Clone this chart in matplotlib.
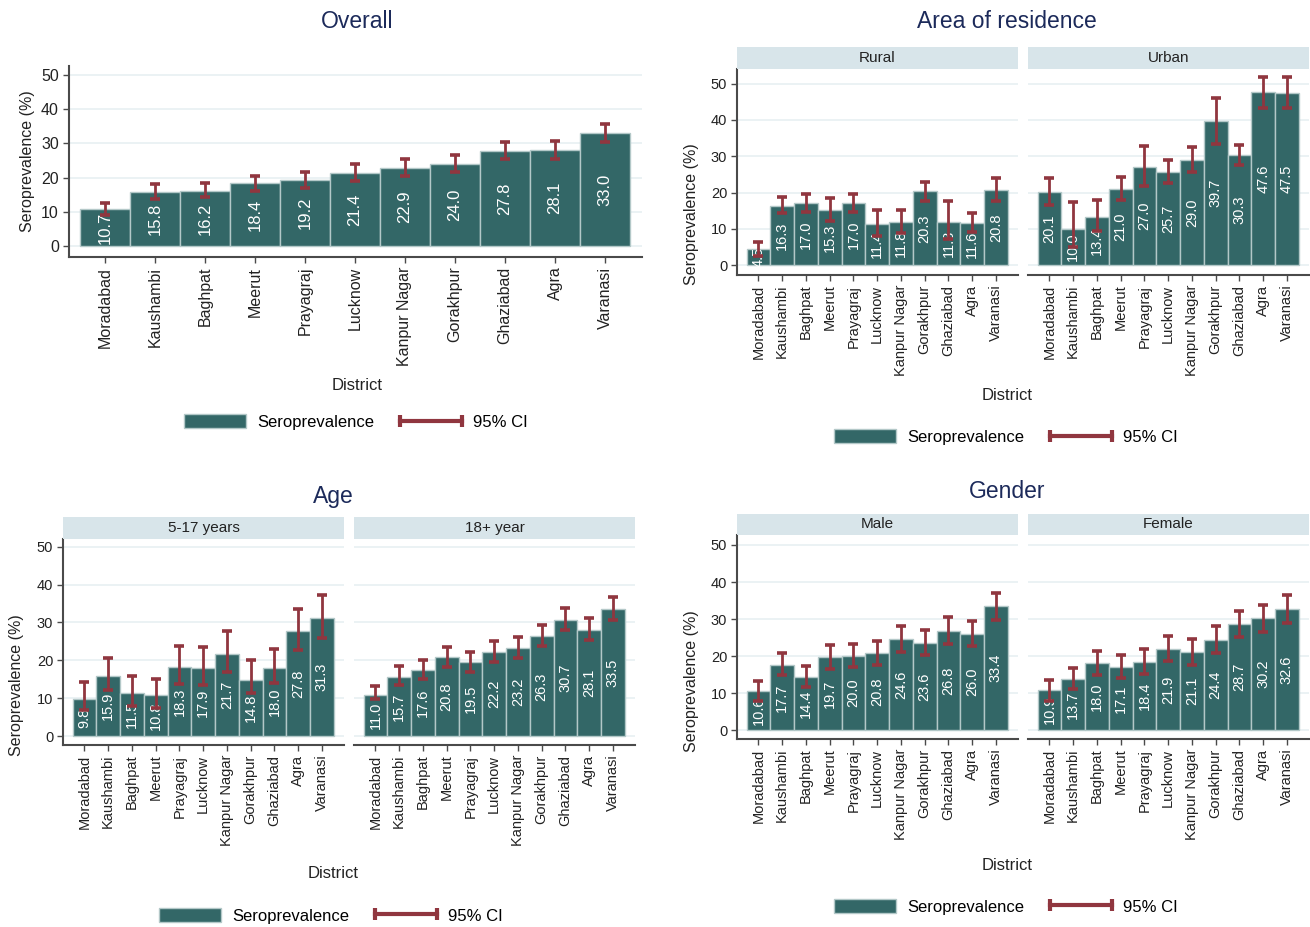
import matplotlib
matplotlib.use("Agg")
import matplotlib.pyplot as plt
import numpy as np
from matplotlib.patches import Patch
from matplotlib.lines import Line2D
from matplotlib.legend_handler import HandlerLine2D

plt.rcParams['font.family'] = ['Liberation Sans', 'DejaVu Sans']

districts = ["Moradabad", "Kaushambi", "Baghpat", "Meerut", "Prayagraj", "Lucknow",
             "Kanpur Nagar", "Gorakhpur", "Ghaziabad", "Agra", "Varanasi"]

# Overall
overall_est = [10.7, 15.8, 16.2, 18.4, 19.2, 21.4, 22.9, 24.0, 27.8, 28.1, 33.0]
overall_lo = [9.0, 13.7, 14.3, 16.1, 16.9, 19.0, 20.5, 21.5, 25.4, 25.4, 30.3]
overall_hi = [12.7, 18.1, 18.5, 20.6, 21.5, 23.9, 25.3, 26.5, 30.3, 30.6, 35.6]

# Area of residence
rural_est = [4.5, 16.3, 17.0, 15.3, 17.0, 11.4, 11.8, 20.3, 11.8, 11.6, 20.8]
rural_lo = [2.6, 14.4, 14.7, 12.2, 14.7, 8.1, 8.8, 17.8, 7.2, 9.2, 17.8]
rural_hi = [6.4, 18.7, 19.6, 18.4, 19.5, 15.2, 15.2, 23.0, 17.7, 14.4, 24.1]
urban_est = [20.1, 10.0, 13.4, 21.0, 27.0, 25.7, 29.0, 39.7, 30.3, 47.6, 47.5]
urban_lo = [16.6, 4.9, 9.5, 18.0, 21.8, 22.7, 25.7, 33.4, 27.5, 43.4, 43.4]
urban_hi = [23.9, 17.5, 18.0, 24.2, 32.8, 28.9, 32.4, 46.1, 33.1, 51.7, 51.7]

# Age
child_est = [9.8, 15.9, 11.5, 10.8, 18.3, 17.9, 21.7, 14.8, 18.0, 27.8, 31.3]
child_lo = [7.0, 12.2, 7.9, 7.5, 13.8, 13.5, 16.9, 11.4, 14.0, 22.7, 26.0]
child_hi = [14.3, 20.6, 16.0, 15.1, 23.8, 23.5, 27.7, 20.0, 22.9, 33.6, 37.2]
adult_est = [11.0, 15.7, 17.6, 20.8, 19.5, 22.2, 23.2, 26.3, 30.7, 28.1, 33.5]
adult_lo = [9.7, 13.5, 15.2, 18.3, 17.0, 19.7, 20.6, 23.7, 28.0, 25.4, 30.7]
adult_hi = [13.3, 18.4, 20.2, 23.6, 22.3, 25.0, 26.1, 29.2, 33.8, 31.3, 36.6]

# Gender
male_est = [10.6, 17.7, 14.4, 19.7, 20.0, 20.8, 24.6, 23.6, 26.8, 26.0, 33.4]
male_lo = [7.9, 14.8, 11.7, 16.6, 17.0, 17.6, 21.2, 20.4, 23.3, 22.6, 29.8]
male_hi = [13.3, 20.8, 17.4, 23.1, 23.2, 24.2, 28.2, 27.0, 30.5, 29.4, 37.0]
female_est = [10.9, 13.7, 18.0, 17.1, 18.4, 21.9, 21.1, 24.4, 28.7, 30.2, 32.6]
female_lo = [7.9, 11.0, 15.0, 14.1, 15.1, 18.6, 17.7, 20.9, 25.2, 26.5, 28.8]
female_hi = [13.6, 16.7, 21.3, 20.3, 21.8, 25.5, 24.5, 28.0, 32.2, 33.9, 36.4]

BAR = "#336767"
EDGE = "#b3c8c8"
CI = "#90363f"
STRIP = "#d8e5ea"
GRID = "#e8f0f2"
AXIS = "#4a4a4a"
TITLE = "#1c2a5a"

W, H = 1310, 927
fig = plt.figure(figsize=(W / 100, H / 100), dpi=100)


def px_axes(x0, y0, x1, y1, **kw):
    return fig.add_axes([x0 / W, 1 - y1 / H, (x1 - x0) / W, (y1 - y0) / H], **kw)


def draw_panel(rect, est, lo, hi, xlim, ylim, show_y=True, tick_fs=10.5, lab_fs=10.5, val_fs=10.5):
    ax = px_axes(*rect)
    est = np.asarray(est)
    x = np.arange(len(districts))
    ax.bar(x, est, width=1.0, color=BAR, edgecolor=EDGE, linewidth=1, zorder=2)
    for xi, v in zip(x, est):
        ax.text(xi, v / 2, f"{v:.1f}", rotation=90, ha="center", va="center",
                color="white", fontsize=val_fs, zorder=3)
    yerr = [est - np.asarray(lo), np.asarray(hi) - est]
    ax.errorbar(x, est, yerr=yerr, fmt="none", ecolor=CI, elinewidth=2.0,
                capsize=3.6, capthick=2.6, zorder=4)
    ax.set_xlim(*xlim)
    ax.set_ylim(*ylim)
    ax.set_yticks(range(0, 51, 10))
    ax.yaxis.grid(True, color=GRID, linewidth=1.2)
    ax.set_axisbelow(True)
    ax.set_xticks(x)
    ax.set_xticklabels(districts, rotation=90, fontsize=lab_fs, color="#222222")
    ax.tick_params(axis="x", length=4, width=1, color=AXIS, pad=3)
    for s in ["top", "right"]:
        ax.spines[s].set_visible(False)
    ax.spines["bottom"].set_color(AXIS)
    ax.spines["bottom"].set_linewidth(1.5)
    if show_y:
        ax.spines["left"].set_color(AXIS)
        ax.spines["left"].set_linewidth(1.5)
        ax.tick_params(axis="y", length=4, width=1, color=AXIS, labelsize=tick_fs,
                       labelcolor="#222222", pad=3)
    else:
        ax.spines["left"].set_visible(False)
        ax.tick_params(axis="y", left=False, labelleft=False)
    return ax


def strip(x0, y0, x1, y1, label):
    s = px_axes(x0, y0, x1, y1)
    s.set_facecolor(STRIP)
    s.set_xticks([])
    s.set_yticks([])
    for sp in s.spines.values():
        sp.set_visible(False)
    s.text(0.5, 0.5, label, ha="center", va="center", fontsize=11, color="#222222",
           transform=s.transAxes)


def ftext(x, y, s, **kw):
    fig.text(x / W, 1 - y / H, s, **kw)


def panel_legend(cx, cy):
    handles = [Patch(facecolor=BAR, edgecolor=EDGE),
               Line2D([], [], color=CI, lw=3, marker="|", markersize=8, mew=3)]
    fig.legend(handles, ["Seroprevalence", "95% CI"], loc="center",
               bbox_to_anchor=(cx / W, 1 - cy / H), ncol=2, frameon=False, fontsize=12,
               handlelength=3.7, handleheight=0.9, handletextpad=0.65, columnspacing=1.6,
               borderpad=0, handler_map={Line2D: HandlerLine2D(marker_pad=0, numpoints=2)})


def panel_titles(cx, ty, xy, lx, ly, title):
    ftext(cx, ty, title, ha="center", va="center", fontsize=16.5, color=TITLE)
    ftext(cx, xy, "District", ha="center", va="center", fontsize=12, color="#222222")
    ftext(lx, ly, "Seroprevalence (%)", ha="center", va="center", rotation=90,
          fontsize=11.5, color="#222222")


xl = (-0.9, 10.93)

# Overall
draw_panel((68.5, 66, 641.5, 257), overall_est, overall_lo, overall_hi,
           (-0.73, 10.73), (-3.2, 52.6), tick_fs=11.5, lab_fs=11.5, val_fs=12)
panel_titles(357, 22, 385, 28, 161, "Overall")
panel_legend(356, 422)

# Area of residence
draw_panel((737, 69, 1018, 275), rural_est, rural_lo, rural_hi, xl, (-2.7, 54))
draw_panel((1028, 69, 1309, 275), urban_est, urban_lo, urban_hi, xl, (-2.7, 54), show_y=False)
strip(737, 47, 1018, 69, "Rural")
strip(1028, 47, 1309, 69, "Urban")
panel_titles(1007, 22, 395, 692, 214, "Area of residence")
panel_legend(1006, 437)

# Age
draw_panel((63, 539, 344, 745), child_est, child_lo, child_hi, xl, (-2.3, 52))
draw_panel((354, 539, 635, 745), adult_est, adult_lo, adult_hi, xl, (-2.3, 52), show_y=False)
strip(63, 517, 344, 539, "5-17 years")
strip(354, 517, 635, 539, "18+ year")
panel_titles(333, 496, 873, 17, 685, "Age")
panel_legend(331, 916)

# Gender
draw_panel((737, 535, 1018, 739), male_est, male_lo, male_hi, xl, (-2.4, 52.7))
draw_panel((1028, 535, 1309, 739), female_est, female_lo, female_hi, xl, (-2.4, 52.7), show_y=False)
strip(737, 514, 1018, 535, "Male")
strip(1028, 514, 1309, 535, "Female")
panel_titles(1007, 491, 866, 692, 681, "Gender")
panel_legend(1006, 907)

fig.savefig("out.png", dpi=100, facecolor="white")
